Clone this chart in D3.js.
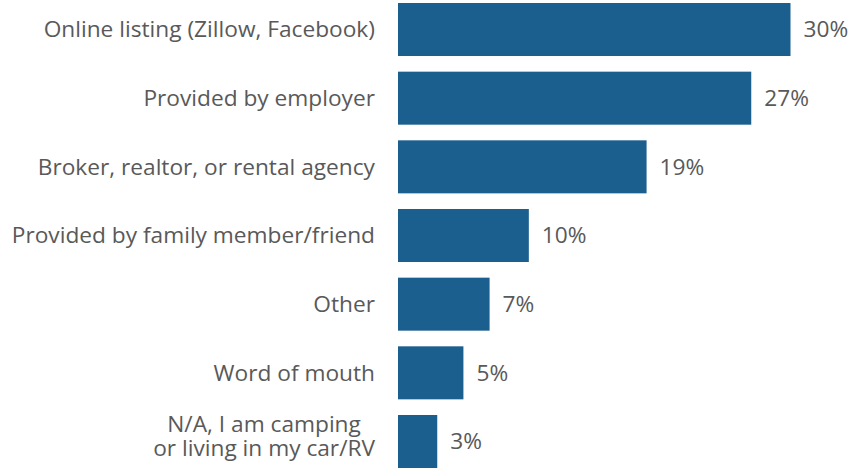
<!DOCTYPE html>
<html><head><meta charset="utf-8">
<script src="https://cdn.jsdelivr.net/npm/d3@7"></script>
<style>body{margin:0;background:#fff;}svg{display:block;font-family:"Open Sans",sans-serif;}</style>
</head><body>
<svg id="c" width="861" height="471"></svg>
<script>
const categories = [
  ["Online listing (Zillow, Facebook)"],
  ["Provided by employer"],
  ["Broker, realtor, or rental agency"],
  ["Provided by family member/friend"],
  ["Other"],
  ["Word of mouth"],
  ["N/A, I am camping", "or living in my car/RV"]
];
const values = [30, 27, 19, 10, 7, 5, 3];
const valueLabels = ["30%", "27%", "19%", "10%", "7%", "5%", "3%"];

const svg = d3.select("#c");
const x = d3.scaleLinear().domain([0, 30]).range([398, 790.5]);
const y = d3.scaleBand().domain(d3.range(values.length)).range([3, 468]).paddingInner(0.228).paddingOuter(0);

const g = svg.append("g");
g.selectAll("rect").data(values).join("rect")
  .attr("x", x(0)).attr("y", (d,i) => y(i))
  .attr("width", d => x(d) - x(0)).attr("height", y.bandwidth())
  .attr("fill", "#1b5f8f");

g.selectAll("text.v").data(values).join("text").attr("class","v")
  .attr("x", d => x(d) + 13).attr("y", (d,i) => y(i) + y.bandwidth()/2)
  .attr("dy", "0.35em").attr("font-size", 22.7).attr("fill", "#595959")
  .text((d,i) => valueLabels[i]);

const labelRight = 375;
const lab = g.selectAll("text.c").data(categories).join("text").attr("class","c")
  .attr("x", labelRight).attr("y", (d,i) => y(i) + y.bandwidth()/2)
  .attr("text-anchor", "end").attr("font-size", 22.7).attr("fill", "#595959");
lab.each(function(d){
  const t = d3.select(this);
  const n = d.length;
  const spans = d.map((line, j) => t.append("tspan").attr("x", labelRight)
      .attr("dy", j === 0 ? (n > 1 ? "-0.44em" : "0.35em") : "1.07em")
      .text(line));
  if (n > 1) {
    const w = d3.max(spans, s => s.node().getComputedTextLength());
    const cx = labelRight - w / 2;
    t.attr("text-anchor", "middle");
    spans.forEach(s => s.attr("x", cx));
  }
});
</script>
</body></html>
